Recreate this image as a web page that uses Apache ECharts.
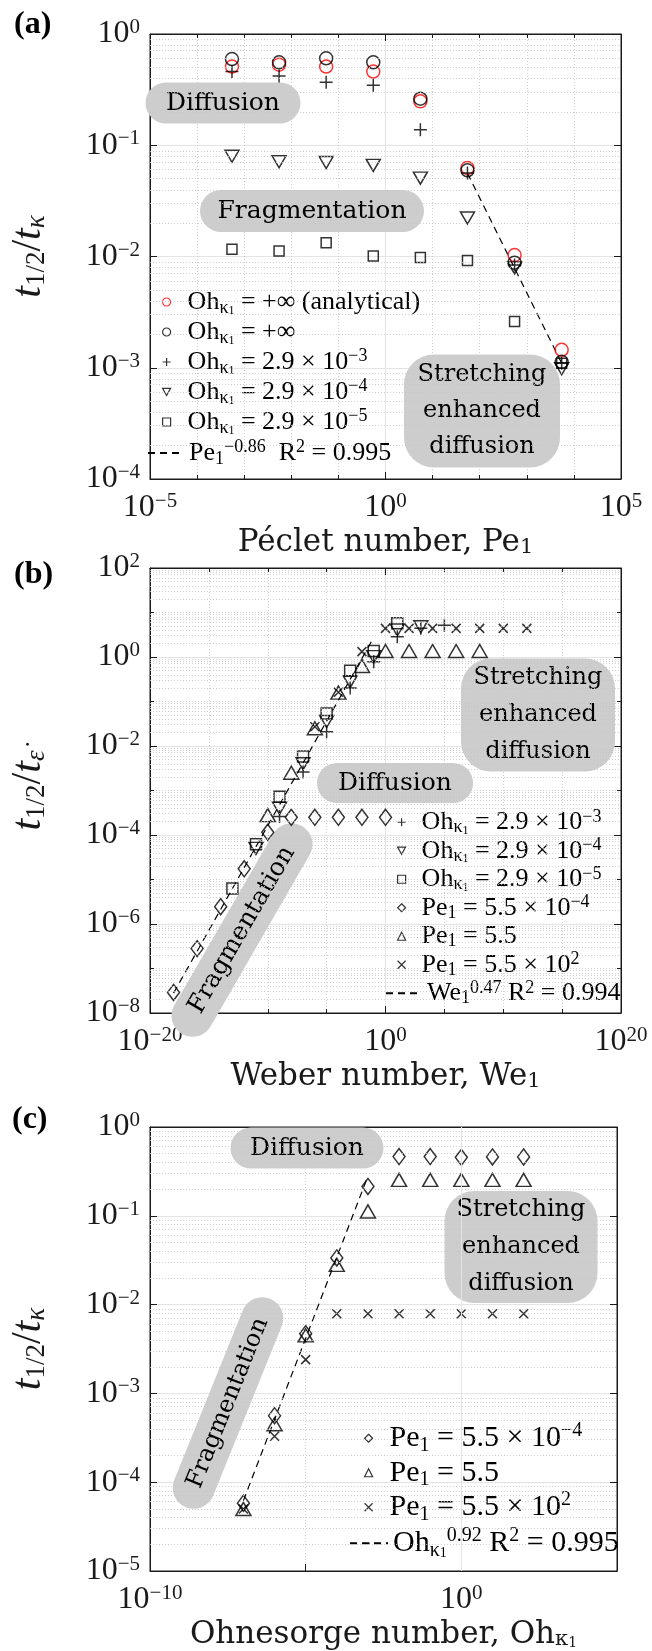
<!DOCTYPE html>
<html>
<head>
<meta charset="utf-8">
<script src="https://cdn.jsdelivr.net/npm/echarts@6/dist/echarts.min.js"></script>
<style>
  html, body { margin: 0; padding: 0; background: #fff; }
  #chart { width: 652px; height: 1651px; }
</style>
</head>
<body>
<div id="chart"></div>
<script>
// ---------- panel (a): t1/2 / t_kappa against Peclet number ----------
const pecletA = [5.5e-4, 5.5e-3, 5.5e-2, 0.55, 5.5, 55, 550, 5500];
const aAnalytical = [0.51, 0.53, 0.51, 0.46, 0.248, 0.0626, 0.0103, 0.00145];
const aOhInf = [0.596, 0.557, 0.605, 0.557, 0.262, 0.0596, 0.0088, 0.00113];
const aOh3 = [0.46, 0.42, 0.368, 0.346, 0.138, 0.0564, 0.0084, 0.0011];
const aOh4 = [0.0796, 0.071, 0.070, 0.066, 0.0506, 0.0222, 0.0079, 0.00098];
const aOh5 = [0.0116, 0.0112, 0.0133, 0.0101, 0.0098, 0.0092, 0.0026, 0.0011];
const aFitX = [55, 5500];
const aFitY = [0.056, 0.0011];

// ---------- panel (b): t1/2 / t_edot against Weber number ----------
const bWeOh3 = [1e-9, 1e-7, 1e-5, 1e-3, 1e-1, 1e1, 1e3, 1e5];
const bOh3 = [2.6e-4, 2.6e-3, 0.021, 0.20, 0.785, 2.86, 4.4, 5.2];
const bWeOh4 = [1e-11, 1e-9, 1e-7, 1e-5, 1e-3, 1e-1, 1e1, 1e3];
const bOh4 = [5.0e-5, 4.0e-4, 4.0e-3, 0.0355, 0.279, 1.02, 4.05, 4.8];
const bWeOh5 = [1e-13, 1e-11, 1e-9, 1e-7, 1e-5, 1e-3, 1e-1, 1e1];
const bOh5 = [6.3e-6, 6.2e-5, 7.2e-4, 5.8e-3, 0.054, 0.49, 1.36, 5.7];
const bWePe4 = [1e-18, 1e-16, 1e-14, 1e-12, 1e-10, 1e-8, 1e-6, 1e-4, 1e-2, 1];
const bPe4 = [2.9e-8, 2.8e-7, 2.45e-6, 1.74e-5, 1.15e-4, 2.5e-4, 2.5e-4, 2.5e-4, 2.5e-4, 2.5e-4];
const bWePe0 = [1e-10, 1e-8, 1e-6, 1e-4, 1e-2, 1, 1e2, 1e4, 1e6, 1e8];
const bPe0 = [2.8e-4, 2.5e-3, 0.025, 0.158, 0.63, 1.36, 1.36, 1.36, 1.36, 1.36];
const bWePe2 = [1e-6, 1e-4, 1e-2, 1, 1e2, 1e4, 1e6, 1e8, 1e10, 1e12];
const bPe2 = [0.027, 0.162, 1.32, 4.4, 4.4, 4.4, 4.4, 4.4, 4.4, 4.4];
const bFitX = [1e-18, 1e-1];
const bFitY = [2.8e-8, 2.75];

// ---------- panel (c): t1/2 / t_kappa against Ohnesorge number ----------
const ohC = [1e-7, 1e-6, 1e-5, 1e-4, 1e-3, 1e-2, 1e-1, 1, 10, 100];
const cPe4 = [5.8e-5, 5.6e-4, 4.7e-3, 0.0335, 0.214, 0.465, 0.465, 0.455, 0.46, 0.46];
const cPe0 = [5.0e-5, 4.5e-4, 4.5e-3, 0.028, 0.112, 0.254, 0.254, 0.254, 0.254, 0.254];
const cPe2 = [5.0e-5, 3.3e-4, 2.4e-3, 0.0079, 0.0079, 0.0079, 0.0079, 0.0079, 0.0079, 0.0079];
const cFitX = [1e-7, 1e-3];
const cFitY = [6.2e-5, 0.28];

const F = 'Liberation Serif';
const FW = 'DejaVu Serif'; // wider face for the titles and boxed notes
const INK = '#1a1a1a';
const L = Math.log10;
const toPts = (xs, ys) => xs.map((x, i) => [L(x), L(ys[i])]);

const SYM = {
  circle: 'circle',
  plus: 'path://M5,0L5,10M0,5L10,5',
  triDown: 'path://M0,0L10,0L5,9Z',
  square: 'rect',
  diamond: 'diamond',
  triUp: 'triangle',
  cross: 'path://M0,0L10,10M10,0L0,10'
};

const grids = [
  { left: 140, top: 34, width: 481, height: 445 },
  { left: 141, top: 568, width: 480, height: 445 },
  { left: 135, top: 1127, width: 482, height: 445 }
];

const supMinus = e => (e < 0 ? '\u2212' + (-e) : '' + e);
const tickLabel = (only10) => ({
  color: INK,
  fontFamily: F,
  formatter: v => {
    const e = Math.round(v);
    if (only10 && e % 10 !== 0) return '';
    return '{b|10}{e|' + supMinus(e) + '}';
  },
  rich: {
    b: { fontSize: 32, fontFamily: F, color: INK, lineHeight: 34 },
    e: { fontSize: 21, fontFamily: F, color: INK, verticalAlign: 'top', lineHeight: 22 }
  }
});

const majorGrid = { show: true, lineStyle: { color: '#e4e4e4', width: 1, type: 'solid' } };
const dotted = { color: '#c4c4c4', width: 0.8, type: [1, 2] };
const axisLineStyle = { show: true, onZero: false, lineStyle: { color: INK, width: 1 } };

function xAxisMain(g, min, max, interval, minorSplit, opts) {
  opts = opts || {};
  return {
    type: 'value', gridIndex: g, min, max, interval, position: 'bottom',
    axisLine: axisLineStyle,
    axisTick: { show: true, inside: true, length: 7, lineStyle: { color: INK } },
    minorTick: { show: !!minorSplit, splitNumber: minorSplit || 5, length: 4, lineStyle: { color: INK } },
    splitLine: opts.dottedSplit ? { show: true, lineStyle: dotted } : majorGrid,
    minorSplitLine: { show: !!minorSplit, lineStyle: dotted },
    axisLabel: Object.assign(tickLabel(opts.only10), { margin: 12 }),
    name: opts.name, nameLocation: 'middle', nameGap: opts.nameGap,
    nameTextStyle: { fontFamily: FW, fontSize: 31, color: INK, rich: {
      s: { fontFamily: FW, fontSize: 21, color: INK, verticalAlign: 'bottom', lineHeight: 21 },
      ss: { fontFamily: FW, fontSize: 14, color: INK, verticalAlign: 'bottom', lineHeight: 15 }
    } }
  };
}
function yAxisMain(g, min, max, interval, minorSplit, opts) {
  return {
    type: 'value', gridIndex: g, min, max, interval, position: 'left',
    axisLine: axisLineStyle,
    axisTick: { show: true, inside: true, length: 7, lineStyle: { color: INK } },
    minorTick: { show: !!minorSplit, splitNumber: minorSplit || 5, length: 4, lineStyle: { color: INK } },
    splitLine: majorGrid,
    minorSplitLine: { show: !!minorSplit, lineStyle: dotted },
    axisLabel: Object.assign(tickLabel(false), { margin: 10 }),
    name: opts.name, nameLocation: 'middle', nameGap: opts.nameGap, nameRotate: 90,
    nameTextStyle: { fontFamily: F, fontSize: 42, color: INK, rich: {
      i: { fontFamily: F, fontStyle: 'italic', fontSize: 42, color: INK },
      r: { fontFamily: F, fontSize: 42, color: INK },
      s: { fontFamily: F, fontSize: 27, color: INK, verticalAlign: 'bottom', lineHeight: 26 },
      si: { fontFamily: F, fontStyle: 'italic', fontSize: 27, color: INK, verticalAlign: 'bottom', lineHeight: 26 }
    } }
  };
}
function mirrorX(g, min, max, interval, minorSplit) {
  return {
    type: 'value', gridIndex: g, min, max, interval, position: 'top',
    axisLine: axisLineStyle,
    axisTick: { show: true, inside: true, length: 7, lineStyle: { color: INK } },
    minorTick: { show: !!minorSplit, splitNumber: minorSplit || 5, length: 4, lineStyle: { color: INK } },
    splitLine: { show: false }, axisLabel: { show: false }
  };
}
function mirrorY(g, min, max, interval, minorSplit) {
  return {
    type: 'value', gridIndex: g, min, max, interval, position: 'right',
    axisLine: axisLineStyle,
    axisTick: { show: true, inside: true, length: 7, lineStyle: { color: INK } },
    minorTick: { show: !!minorSplit, splitNumber: minorSplit || 5, length: 4, lineStyle: { color: INK } },
    splitLine: { show: false }, axisLabel: { show: false }
  };
}

// 2..9 x 10^n dotted grid lines for the log y axes
function logMinorLines(lo, hi) {
  const out = [];
  for (let e = lo; e < hi; e++) for (let k = 2; k <= 9; k++) out.push({ yAxis: e + L(k) });
  return out;
}
function gridHelper(g, lines) {
  return {
    type: 'line', xAxisIndex: g, yAxisIndex: g, data: [], silent: true, z: 1,
    markLine: { silent: true, symbol: ['none', 'none'], label: { show: false },
      lineStyle: dotted, animation: false, data: lines }
  };
}

const hollow = (c) => ({ color: 'rgba(0,0,0,0)', borderColor: c || '#000', borderWidth: 1.5 });
function scatter(g, name, xs, ys, symbol, size, color) {
  return {
    type: 'scatter', name, xAxisIndex: g, yAxisIndex: g, z: 3,
    data: toPts(xs, ys), symbol: SYM[symbol], symbolSize: size,
    itemStyle: hollow(color), emphasis: { disabled: true }
  };
}
function fitLine(g, name, xs, ys) {
  return {
    type: 'line', name, xAxisIndex: g, yAxisIndex: g, z: 3, symbol: 'none',
    data: toPts(xs, ys), lineStyle: { color: '#000', width: 1.2, type: [7, 5] },
    itemStyle: { color: '#000' }, emphasis: { disabled: true }
  };
}

const legendText = {
  aAna: 'Oh{s|κ}{ss|1} = +∞ (analytical)',
  aInf: 'Oh{s|κ}{ss|1} = +∞',
  aOh3: 'Oh{s|κ}{ss|1} = 2.9 × 10{p|−3}',
  aOh4: 'Oh{s|κ}{ss|1} = 2.9 × 10{p|−4}',
  aOh5: 'Oh{s|κ}{ss|1} = 2.9 × 10{p|−5}',
  aFit: 'Pe{s|1}{p|−0.86}  R{p|2} = 0.995',
  bOh3: 'Oh{s|κ}{ss|1} = 2.9 × 10{p|−3}',
  bOh4: 'Oh{s|κ}{ss|1} = 2.9 × 10{p|−4}',
  bOh5: 'Oh{s|κ}{ss|1} = 2.9 × 10{p|−5}',
  bPe4: 'Pe{s|1} = 5.5 × 10{p|−4}',
  bPe0: 'Pe{s|1} = 5.5',
  bPe2: 'Pe{s|1} = 5.5 × 10{p|2}',
  bFit: 'We{s|1}{p|0.47} R{p|2} = 0.994',
  cPe4: 'Pe{s|1} = 5.5 × 10{p|−4}',
  cPe0: 'Pe{s|1} = 5.5',
  cPe2: 'Pe{s|1} = 5.5 × 10{p|2}',
  cFit: 'Oh{s|κ}{ss|1}{p|0.92} R{p|2} = 0.995'
};
function legendRich(fs, lh, gap) {
  return {
    fontFamily: F, fontSize: fs, color: '#000', lineHeight: lh,
    rich: {
      g: { width: gap },
      s: { fontFamily: F, fontSize: Math.round(fs * 0.68), color: '#000', verticalAlign: 'bottom', lineHeight: Math.round(fs * 0.62) },
      ss: { fontFamily: F, fontSize: Math.round(fs * 0.48), color: '#000', verticalAlign: 'bottom', lineHeight: Math.round(fs * 0.45) },
      p: { fontFamily: F, fontSize: Math.round(fs * 0.68), color: '#000', verticalAlign: 'top', lineHeight: Math.round(fs * 0.68) }
    }
  };
}
function legend(names, left, top, iw, ih, fs, lh, gap) {
  return {
    orient: 'vertical', left, top, itemGap: 0, itemWidth: iw, itemHeight: ih,
    selectedMode: false, padding: 0, align: 'left',
    data: names,
    formatter: n => (gap ? '{g| }' : '') + legendText[n],
    textStyle: legendRich(fs, lh, gap),
    itemStyle: { borderWidth: 1.2 }
  };
}

const series = [
  gridHelper(0, logMinorLines(-4, 0)),
  gridHelper(1, logMinorLines(-8, 2)),
  gridHelper(2, logMinorLines(-5, 0).concat([{ xAxis: 0, lineStyle: { color: '#e4e4e4', width: 1, type: 'solid' } }])),

  scatter(0, 'aAna', pecletA, aAnalytical, 'circle', 13, '#ff0000'),
  scatter(0, 'aInf', pecletA, aOhInf, 'circle', 13),
  scatter(0, 'aOh3', pecletA, aOh3, 'plus', 13),
  scatter(0, 'aOh4', pecletA, aOh4, 'triDown', [14, 12]),
  scatter(0, 'aOh5', pecletA, aOh5, 'square', 10),
  fitLine(0, 'aFit', aFitX, aFitY),

  scatter(1, 'bOh3', bWeOh3, bOh3, 'plus', 13),
  scatter(1, 'bOh4', bWeOh4, bOh4, 'triDown', [14, 12]),
  scatter(1, 'bOh5', bWeOh5, bOh5, 'square', 11),
  scatter(1, 'bPe4', bWePe4, bPe4, 'diamond', [12, 16]),
  scatter(1, 'bPe0', bWePe0, bPe0, 'triUp', [15, 13]),
  scatter(1, 'bPe2', bWePe2, bPe2, 'cross', 9),
  fitLine(1, 'bFit', bFitX, bFitY),

  scatter(2, 'cPe4', ohC, cPe4, 'diamond', [12, 16]),
  scatter(2, 'cPe0', ohC, cPe0, 'triUp', [15, 13]),
  scatter(2, 'cPe2', ohC, cPe2, 'cross', 9),
  fitLine(2, 'cFit', cFitX, cFitY)
];

function pill(cx, cy, w, h, rot, text, fs, lh) {
  return {
    type: 'group', x: cx, y: cy, rotation: (rot || 0) * Math.PI / 180, z: 2,
    children: [
      { type: 'rect', shape: { x: -w / 2, y: -h / 2, width: w, height: h, r: Math.min(h / 2, 30) },
        style: { fill: '#cdcdcd' }, z: 2 },
      { type: 'text', x: 0, y: 0, z: 3,
        style: { text, fontFamily: FW, fontSize: fs, fill: '#000', align: 'center',
          verticalAlign: 'middle', lineHeight: lh || fs } }
    ]
  };
}
function panelTag(x, y, t) {
  return { type: 'text', x, y, z: 5,
    style: { text: t, fontFamily: F, fontWeight: 'bold', fontSize: 32, fill: '#000', verticalAlign: 'middle' } };
}

const option = {
  animation: false,
  backgroundColor: '#fff',
  grid: grids.map(g => Object.assign({ show: true, borderColor: INK, borderWidth: 1, backgroundColor: 'transparent', containLabel: false }, g)),
  xAxis: [
    xAxisMain(0, -5, 5, 5, 5, { name: 'Péclet number, Pe{s|1}', nameGap: 48 }),
    xAxisMain(1, -20, 20, 20, 4, { name: 'Weber number, We{s|1}', nameGap: 48 }),
    xAxisMain(2, -10, 5, 5, 0, { name: 'Ohnesorge number, Oh{s|κ}{ss|1}', nameGap: 48, only10: true, dottedSplit: true }),
    mirrorX(0, -5, 5, 5, 5),
    mirrorX(1, -20, 20, 20, 4),
    mirrorX(2, -10, 5, 5, 0)
  ],
  yAxis: [
    yAxisMain(0, -4, 0, 1, 0, { name: '{i|t}{s|1/2}{r|/}{i|t}{si|κ}', nameGap: 100 }),
    yAxisMain(1, -8, 2, 2, 2, { name: '{i|t}{s|1/2}{r|/}{i|t}{si|\u03B5\u0307}', nameGap: 100 }),
    yAxisMain(2, -5, 0, 1, 0, { name: '{i|t}{s|1/2}{r|/}{i|t}{si|κ}', nameGap: 100 }),
    mirrorY(0, -4, 0, 1, 0),
    mirrorY(1, -8, 2, 2, 2),
    mirrorY(2, -5, 0, 1, 0)
  ],
  legend: [
    legend(['aAna', 'aInf', 'aOh3', 'aOh4', 'aOh5'], 162, 287, 8, 8, 26, 30, 12),
    legend(['aFit'], 147, 438, 36, 2, 26, 30, 0),
    legend(['bOh3', 'bOh4', 'bOh5', 'bPe4', 'bPe0', 'bPe2'], 397, 808, 8, 8, 26, 28.5, 11),
    legend(['bFit'], 385, 979, 36, 2, 26, 28.5, 0),
    legend(['cPe4', 'cPe0', 'cPe2'], 364, 1421, 8, 8, 30, 34.5, 12),
    legend(['cFit'], 349, 1526, 38, 2, 30, 34.5, 0)
  ],
  graphic: [
    panelTag(14, 25, '(a)'),
    panelTag(14, 575, '(b)'),
    panelTag(12, 1120, '(c)'),
    pill(223, 103, 155, 41, 0, 'Diffusion', 25),
    pill(312, 211, 224, 42, 0, 'Fragmentation', 25),
    pill(482, 411, 156, 113, 0, 'Stretching\nenhanced\ndiffusion', 24, 36),
    pill(538, 715, 154, 113, 0, 'Stretching\nenhanced\ndiffusion', 24, 37),
    pill(395, 783, 156, 40, 0, 'Diffusion', 25),
    pill(242, 930, 240, 42, 60, 'Fragmentation', 25),
    pill(307, 1148, 153, 41, 0, 'Diffusion', 25),
    pill(521, 1247, 153, 112, 0, 'Stretching\nenhanced\ndiffusion', 24, 37),
    pill(228, 1403, 225, 42, 68, 'Fragmentation', 24)
  ],
  series
};

const chart = echarts.init(document.getElementById('chart'));
chart.setOption(option);
</script>
</body>
</html>
